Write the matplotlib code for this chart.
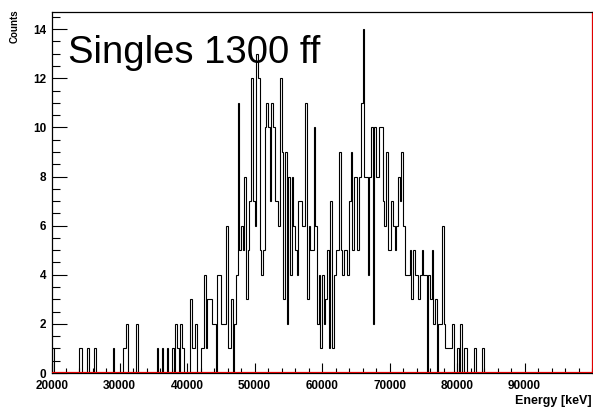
import numpy as np
import matplotlib
matplotlib.use("Agg")
import matplotlib.pyplot as plt
from matplotlib.ticker import MultipleLocator

# Histogram binning (keV)
E_MIN, E_MAX, BIN_W = 20000, 100000, 250

# Counts per 250 keV bin, starting at 20000 keV
counts_low = [
    1, 0, 0, 0, 0, 0, 0, 0, 0, 0, 0, 0, 0, 0, 0, 0, 1, 1, 0, 0,
    0, 1, 0, 0, 0, 1, 0, 0, 0, 0, 0, 0, 0, 0, 0, 0, 1, 0, 0, 0,
    0, 0, 1, 1, 2, 0, 0, 0, 0, 0, 2, 0, 0, 0, 0, 0, 0, 0, 0, 0,
    0, 0, 1, 0, 0, 1, 0, 0, 1, 0, 0, 1, 0, 2, 1, 0, 2, 1, 0, 0,
]
counts_core = [
    0, 0, 3, 1, 1, 2, 0, 0, 1, 1, 4, 1, 3, 3, 3, 2, 2, 0, 4, 4,
    2, 2, 2, 6, 1, 1, 3, 0, 2, 4, 11, 5, 6, 5, 8, 3, 5, 7, 12, 7,
    6, 13, 12, 5, 4, 5, 10, 11, 10, 7, 11, 10, 7, 7, 6, 12, 9, 3, 9, 2,
    8, 4, 8, 6, 5, 4, 7, 7, 6, 6, 11, 3, 6, 5, 5, 10, 6, 2, 4, 1,
    4, 2, 3, 5, 1, 7, 1, 4, 5, 5, 9, 5, 4, 5, 5, 4, 7, 9, 5, 8,
    8, 5, 8, 11, 14, 8, 8, 4, 8, 10, 2, 10, 8, 8, 10, 10, 7, 6, 9, 5,
    5, 7, 6, 5, 6, 8, 7, 9, 6, 4, 4, 4, 5, 3, 5, 4, 4, 3, 4, 5,
    4, 4, 0, 4, 3, 5, 2, 3, 0, 2, 2, 6, 2, 1, 1, 1, 1, 2, 0, 0,
]
counts_high = [
    1, 0, 2, 0, 1, 1, 0, 0, 0, 0, 1, 0, 0, 0, 0, 1, 0, 0, 0, 0,
] + [0] * 60
counts = counts_low + counts_core + counts_high

x_ticks = [20000, 30000, 40000, 50000, 60000, 70000, 80000, 90000]
y_ticks = [0, 2, 4, 6, 8, 10, 12, 14]
Y_MAX = 14.7

title_text = "Singles 1300 ff"
x_label = "Energy [keV]"
y_label = "Counts"

W, H = 593, 413
fig = plt.figure(figsize=(W / 100, H / 100), dpi=100)
ax = fig.add_axes([52 / W, 1 - 373 / H, 540 / W, 361 / H])

edges = np.arange(E_MIN, E_MAX + BIN_W, BIN_W)
ax.stairs(counts, edges, color="black", linewidth=0.8, baseline=0)
ax.axhline(0, color="#e00000", linewidth=1.6, zorder=3)

ax.set_xlim(E_MIN, E_MAX)
ax.set_ylim(0, Y_MAX)
ax.set_xticks(x_ticks)
ax.set_yticks(y_ticks)
ax.xaxis.set_minor_locator(MultipleLocator(2000))
ax.yaxis.set_minor_locator(MultipleLocator(0.5))

tick_font = dict(family=["Liberation Sans Narrow", "Liberation Sans", "DejaVu Sans"],
                 weight="bold", size=8.5)
ax.set_xticklabels([str(t) for t in x_ticks], fontdict=tick_font)
ax.set_yticklabels([str(t) for t in y_ticks], fontdict=tick_font)
ax.tick_params(axis="x", which="major", direction="in", length=7.5, width=0.8, pad=5)
ax.tick_params(axis="x", which="minor", direction="in", length=3.5, width=0.8)
ax.tick_params(axis="y", which="major", direction="in", length=11, width=0.8, pad=4)
ax.tick_params(axis="y", which="minor", direction="in", length=5.5, width=0.8)

for side in ("left", "bottom", "top"):
    ax.spines[side].set_linewidth(0.9)
ax.spines["right"].set_color("#e00000")
ax.spines["right"].set_linewidth(0.9)

fig.text(15 / W, 1 - 9 / H, y_label, rotation=90, ha="center", va="top",
         family=["Liberation Sans", "DejaVu Sans"], weight="bold", fontsize=7)
fig.text(592 / W, 1 - 401 / H, x_label, ha="right", va="center",
         family=["Liberation Sans Narrow", "Liberation Sans", "DejaVu Sans"],
         weight="bold", fontsize=9)
fig.text(68 / W, 1 - 63 / H, title_text, ha="left", va="baseline",
         family=["Liberation Sans", "DejaVu Sans"], fontsize=27.5)

fig.savefig("out.png", dpi=100)
